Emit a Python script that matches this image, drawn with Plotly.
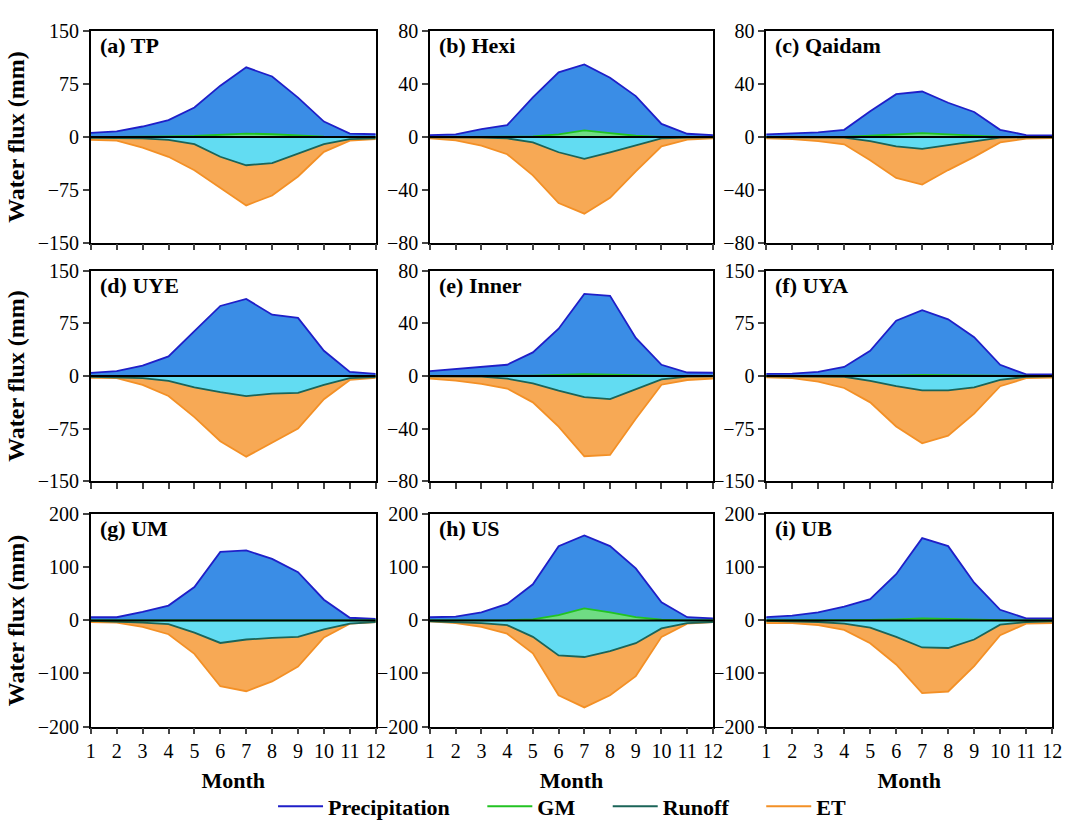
import plotly.graph_objects as go

months = list(range(1, 13))

panels = ["(a) TP", "(b) Hexi", "(c) Qaidam", "(d) UYE", "(e) Inner", "(f) UYA", "(g) UM", "(h) US", "(i) UB"]

precip = {
    "(a) TP":     [6, 8, 15, 24, 42, 73, 99, 86, 56, 22, 5, 4],
    "(b) Hexi":   [1.5, 2, 6, 9, 30, 49, 55, 45, 31, 10, 2.5, 1.5],
    "(c) Qaidam": [2, 2.5, 3.5, 5.5, 19.5, 32.5, 34.5, 26, 19, 5.5, 1.5, 1.2],
    "(d) UYE":    [4.5, 7, 15, 28, 64, 100, 110, 87.5, 83, 36, 6, 3],
    "(e) Inner":  [3.7, 5.5, 7, 8.6, 18, 36, 62.5, 61, 29, 8.6, 2.7, 2.5],
    "(f) UYA":    [3, 3.5, 6, 13, 36, 79, 94, 81, 55.5, 16, 2.3, 2.3],
    "(g) UM":     [6, 6, 16, 28, 63, 129, 132, 116, 91, 39, 5, 3],
    "(h) US":     [6, 7, 15, 31, 68, 140, 160, 140, 98, 34, 6, 4],
    "(i) UB":     [6, 9, 15, 26, 40, 87, 155, 140, 71, 20, 4, 4],
}
gm = {
    "(a) TP":     [0, 0, 0.3, 0.8, 1.5, 3, 5, 4, 2, 0.5, 0, 0],
    "(b) Hexi":   [0, 0, 0, 0.2, 0.5, 2, 5, 3, 1, 0.2, 0, 0],
    "(c) Qaidam": [0, 0, 0, 0.2, 1, 2, 3, 2, 1, 0.2, 0, 0],
    "(d) UYE":    [0, 0, 0, 0, 0.2, 0.4, 0.5, 0.4, 0.2, 0, 0, 0],
    "(e) Inner":  [0, 0, 0, 0, 0.3, 0.8, 1.5, 1, 0.5, 0, 0, 0],
    "(f) UYA":    [0, 0, 0, 0.2, 0.5, 1, 1.5, 1.2, 0.6, 0.2, 0, 0],
    "(g) UM":     [0, 0, 0, 0, 0.3, 0.6, 0.8, 0.6, 0.3, 0, 0, 0],
    "(h) US":     [0, 0, 0, 0.5, 2, 10, 22.5, 15, 6, 1.5, 0, 0],
    "(i) UB":     [0, 0, 0, 0.3, 1, 2, 4, 3, 1, 0.3, 0, 0],
}
runoff = {
    "(a) TP":     [-1, -1, -2, -4, -10, -28, -40, -37, -24, -10, -3, -2],
    "(b) Hexi":   [-0.3, -0.3, -0.5, -1, -4, -11.5, -16.5, -11.5, -6, -1, -0.5, -0.3],
    "(c) Qaidam": [-0.2, -0.2, -0.3, -0.5, -3, -7, -9, -6, -3, -0.5, -0.2, -0.2],
    "(d) UYE":    [-1, -1.5, -3, -7, -16, -23, -28.5, -25, -24, -12.5, -3, -1.5],
    "(e) Inner":  [-0.3, -0.3, -0.5, -2, -5.5, -11, -16, -17.5, -10.3, -2.5, -0.5, -0.3],
    "(f) UYA":    [-0.5, -0.5, -1, -1, -7, -14.5, -20.5, -20.5, -16, -5.5, -1, -0.5],
    "(g) UM":     [-1, -2, -4, -7, -23, -42.5, -36, -33, -31, -17, -6, -3],
    "(h) US":     [-2, -3, -5, -9, -31, -66, -69, -58, -43, -15, -5, -3],
    "(i) UB":     [-1, -2, -3, -6, -13.5, -31, -51, -52, -36, -8, -3, -2],
}
et = {
    "(a) TP":     [-4, -5, -15, -28, -47, -72, -97, -83, -56, -21, -5, -3],
    "(b) Hexi":   [-1, -2.5, -6.5, -13, -29, -50, -58, -46, -26, -7, -2, -1],
    "(c) Qaidam": [-1, -1.5, -3, -5.5, -17.5, -31, -36, -25, -15, -4, -1.2, -0.8],
    "(d) UYE":    [-2.5, -3, -12.5, -28.5, -58.5, -93, -115, -95, -75, -33, -5.5, -2.5],
    "(e) Inner":  [-2, -3.5, -6, -9.5, -20, -38.5, -61, -60, -32.5, -6.6, -3, -2],
    "(f) UYA":    [-2, -3, -8, -17, -37.5, -72, -96, -85, -53.5, -14.5, -3, -2.3],
    "(g) UM":     [-3, -4, -12, -26, -63, -124, -133.5, -115, -87, -32, -6, -3],
    "(h) US":     [-2, -5, -12, -25, -62, -141, -164, -141, -105, -31, -6, -3],
    "(i) UB":     [-5, -5, -9, -18, -43, -83, -137, -134, -86, -28, -6, -5],
}
y_limits = {
    "(a) TP": 150, "(b) Hexi": 80, "(c) Qaidam": 80,
    "(d) UYE": 150, "(e) Inner": 80, "(f) UYA": 150,
    "(g) UM": 200, "(h) US": 200, "(i) UB": 200,
}
y_ticks = {
    150: [-150, -75, 0, 75, 150],
    80: [-80, -40, 0, 40, 80],
    200: [-200, -100, 0, 100, 200],
}

series_names = ["Precipitation", "GM", "Runoff", "ET"]
legend_pad = {"Precipitation": 5, "GM": 5, "Runoff": 5, "ET": 0}
line_colors = {"Precipitation": "#1f1fc8", "GM": "#22c322", "Runoff": "#1b6458", "ET": "#f39026"}
fill_colors = {"Precipitation": "#3a8de6", "GM": "#6fdc84", "Runoff": "#62dcf2", "ET": "#f7a955"}

W, H = 1072, 830
col_px = [(87, 376), (431, 718), (772, 1062)]
row_px = [(21, 238), (267, 483), (517, 735)]

FONT = "Liberation Serif, Times New Roman, DejaVu Serif, serif"
TICK_SIZE = 20
fig = go.Figure()
layout = {}

for i, name in enumerate(panels):
    r, c = divmod(i, 3)
    k = "" if i == 0 else str(i + 1)
    xa, ya = "x" + k, "y" + k
    data = {"Precipitation": precip[name], "GM": gm[name], "Runoff": runoff[name], "ET": et[name]}
    for s in ["Precipitation", "ET", "Runoff", "GM"]:
        fig.add_trace(go.Scatter(
            x=months, y=data[s], mode="lines", fill="tozeroy",
            fillcolor=fill_colors[s], line=dict(color=line_colors[s], width=1.8),
            xaxis=xa, yaxis=ya, showlegend=False, hoverinfo="skip"))
    fig.add_shape(type="line", xref=xa, yref=ya, x0=1, x1=12, y0=0, y1=0,
                  line=dict(color="black", width=2))
    lim = y_limits[name]
    x0, x1 = col_px[c]
    y0, y1 = row_px[r]
    layout["xaxis" + k] = dict(
        domain=[x0 / W, x1 / W], anchor=ya, range=[1, 12],
        tickmode="array", tickvals=months, ticktext=[str(m) for m in months],
        showticklabels=(r == 2), ticks="outside", ticklen=6, tickwidth=1.5,
        showline=True, linecolor="black", linewidth=1.5, mirror=True,
        showgrid=False, zeroline=False,
        tickfont=dict(family=FONT, size=TICK_SIZE, color="black"),
        title=dict(text="<b>Month</b>", font=dict(family=FONT, size=22, color="black"), standoff=11) if r == 2 else None,
    )
    layout["yaxis" + k] = dict(
        domain=[1 - y1 / H, 1 - y0 / H], anchor=xa, range=[-lim, lim],
        tickmode="array", tickvals=y_ticks[lim],
        ticks="outside", ticklen=6, tickwidth=1.5,
        showline=True, linecolor="black", linewidth=1.5, mirror=True,
        showgrid=False, zeroline=False,
        tickfont=dict(family=FONT, size=TICK_SIZE, color="black"),
        title=dict(text="<b>Water flux (mm)</b>", font=dict(family=FONT, size=24, color="black"), standoff=6) if c == 0 else None,
    )
    fig.add_annotation(text="<b>" + name + "</b>", xref=xa + " domain", yref=ya + " domain",
                       x=0.025, y=1.0, xanchor="left", yanchor="top", showarrow=False,
                       font=dict(family=FONT, size=22, color="black"))

for s in series_names:
    fig.add_trace(go.Scatter(x=[None], y=[None], mode="lines",
                             name="<b>" + s + "</b>" + "\u00a0" * legend_pad[s],
                             line=dict(color=line_colors[s], width=2), showlegend=True))

fig.update_layout(
    width=W, height=H, margin=dict(l=0, r=0, t=0, b=0),
    paper_bgcolor="white", plot_bgcolor="white",
    font=dict(family=FONT, color="black"),
    legend=dict(orientation="h", x=0.527, xanchor="center", y=1 - 817 / H, yanchor="middle",
                font=dict(family=FONT, size=22, color="black"), itemwidth=45,
                bgcolor="rgba(0,0,0,0)"),
    **layout,
)

fig.write_html("out.html")
